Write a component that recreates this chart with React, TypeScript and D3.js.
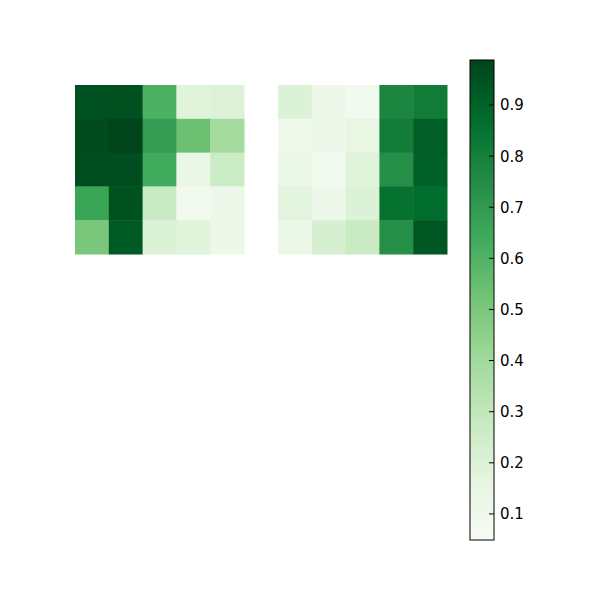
import React from "react";
import * as d3 from "d3";

const rows = [0, 1, 2, 3, 4];
const cols = [0, 1, 2, 3, 4];

const leftValues: number[][] = [
  [0.95, 0.955, 0.608, 0.186, 0.197],
  [0.965, 0.988, 0.69, 0.537, 0.386],
  [0.958, 0.962, 0.638, 0.134, 0.268],
  [0.663, 0.952, 0.28, 0.082, 0.108],
  [0.503, 0.925, 0.2, 0.186, 0.114],
];

const rightValues: number[][] = [
  [0.2, 0.11, 0.088, 0.777, 0.812],
  [0.1, 0.11, 0.147, 0.81, 0.914],
  [0.127, 0.088, 0.186, 0.744, 0.908],
  [0.174, 0.108, 0.2, 0.851, 0.87],
  [0.127, 0.225, 0.272, 0.744, 0.936],
];

const vmin = 0.049;
const vmax = 0.988;
const colorbarTicks = [0.1, 0.2, 0.3, 0.4, 0.5, 0.6, 0.7, 0.8, 0.9];

const greens = [
  "#f7fcf5", "#e5f5e0", "#c7e9c0", "#a1d99b", "#74c476",
  "#41ab5d", "#238b45", "#006d2c", "#00441b",
];

const cmap = d3
  .scaleLinear<string>()
  .domain(greens.map((_, i) => vmin + (i / (greens.length - 1)) * (vmax - vmin)))
  .range(greens)
  .interpolate(d3.interpolateRgb)
  .clamp(true);

function Heatmap({ values, x0, y0, size }: { values: number[][]; x0: number; y0: number; size: number }) {
  const xs = d3.scaleBand<number>().domain(cols).range([x0, x0 + size]);
  const ys = d3.scaleBand<number>().domain(rows).range([y0, y0 + size]);
  return (
    <g>
      {rows.map((r) =>
        cols.map((c) => (
          <rect
            key={`${r}-${c}`}
            x={xs(c)}
            y={ys(r)}
            width={xs.bandwidth() + 0.5}
            height={ys.bandwidth() + 0.5}
            fill={cmap(values[r][c])}
          />
        ))
      )}
    </g>
  );
}

export default function App() {
  const cbX = 470;
  const cbW = 24;
  const cbTop = 60;
  const cbBottom = 540;
  const cy = d3.scaleLinear().domain([vmin, vmax]).range([cbBottom, cbTop]);
  return (
    <svg
      width={600}
      height={600}
      style={{ position: "absolute", left: 0, top: 0, background: "#fff" }}
      fontFamily="DejaVu Sans"
    >
      <rect x={0} y={0} width={600} height={600} fill="#fff" />
      <Heatmap values={leftValues} x0={75} y0={85} size={169} />
      <Heatmap values={rightValues} x0={278} y0={85} size={169} />
      <defs>
        <linearGradient id="cbgrad" x1="0" y1="1" x2="0" y2="0">
          {greens.map((g, i) => (
            <stop key={i} offset={`${(i / (greens.length - 1)) * 100}%`} stopColor={g} />
          ))}
        </linearGradient>
      </defs>
      <rect x={cbX} y={cbTop} width={cbW} height={cbBottom - cbTop} fill="url(#cbgrad)" />
      <rect
        x={cbX}
        y={cbTop}
        width={cbW}
        height={cbBottom - cbTop}
        fill="none"
        stroke="#000"
        strokeWidth={1}
      />
      {colorbarTicks.map((t) => (
        <g key={t}>
          <line x1={cbX + cbW - 5} x2={cbX + cbW} y1={cy(t)} y2={cy(t)} stroke="#000" strokeWidth={1} />
          <text x={cbX + cbW + 6} y={cy(t)} dy="0.36em" fontSize={15} fill="#000">
            {d3.format(".1f")(t)}
          </text>
        </g>
      ))}
    </svg>
  );
}
